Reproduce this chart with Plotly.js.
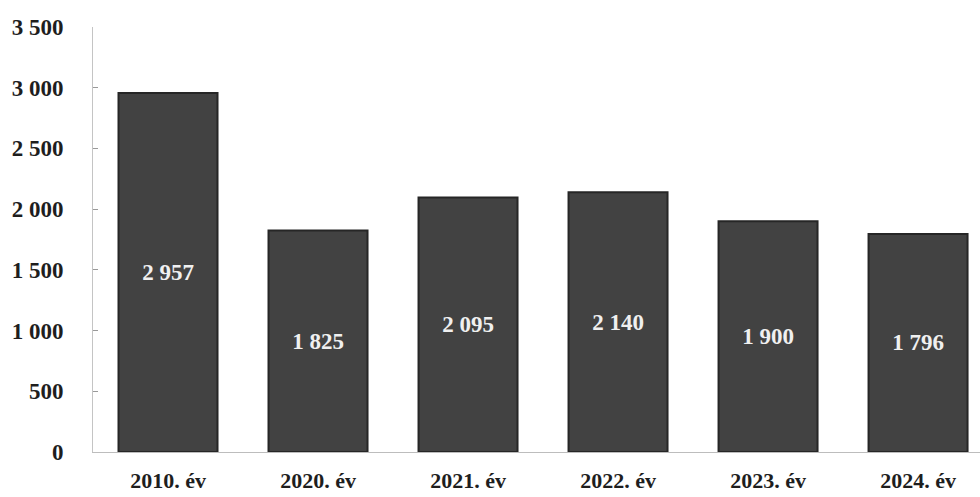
<!DOCTYPE html>
<html>
<head>
<meta charset="utf-8">
<script src="https://cdn.plot.ly/plotly-3.0.1.min.js"></script>
<style>html,body{margin:0;padding:0;background:#fff;}#chart{width:980px;height:497px;}</style>
</head>
<body>
<div id="chart"></div>
<script>
const categories = ["2010. év", "2020. év", "2021. év", "2022. év", "2023. év", "2024. év"];
const values = [2957, 1825, 2095, 2140, 1900, 1796];
const yTicks = [0, 500, 1000, 1500, 2000, 2500, 3000, 3500];

function fmt(v) {
  return String(v).replace(/\B(?=(\d{3})+(?!\d))/g, " ");
}

const serif = "Liberation Serif, Times New Roman, serif";

const trace = {
  type: "bar",
  x: categories,
  y: values,
  text: values.map(fmt),
  textposition: "inside",
  insidetextanchor: "middle",
  textangle: 0,
  textfont: {family: serif, size: 23, color: "#f0f0f0", weight: "bold"},
  marker: {color: "#424242", line: {color: "#262626", width: 2}},
  hoverinfo: "skip"
};

const layout = {
  width: 980,
  height: 497,
  margin: {l: 93, r: 0, t: 27, b: 45},
  paper_bgcolor: "#ffffff",
  plot_bgcolor: "#ffffff",
  showlegend: false,
  bargap: 0.34,
  font: {family: serif, color: "#222"},
  xaxis: {
    type: "category",
    range: [-0.5, 5.413],
    showline: true,
    linecolor: "#bdbdbd",
    linewidth: 1,
    ticks: "",
    showgrid: false,
    ticklabelstandoff: 9,
    tickfont: {family: serif, size: 22, color: "#1e1e1e", weight: "bold"}
  },
  yaxis: {
    range: [0, 3500],
    tickvals: yTicks,
    ticktext: yTicks.map(fmt),
    showline: true,
    linecolor: "#c4c4c4",
    linewidth: 1,
    ticks: "inside",
    ticklen: 5,
    tickcolor: "#999",
    showgrid: false,
    zeroline: false,
    ticklabelstandoff: 24,
    tickfont: {family: serif, size: 23, color: "#1e1e1e", weight: "bold"}
  }
};

Plotly.newPlot("chart", [trace], layout, {displayModeBar: false, staticPlot: true});
</script>
</body>
</html>
